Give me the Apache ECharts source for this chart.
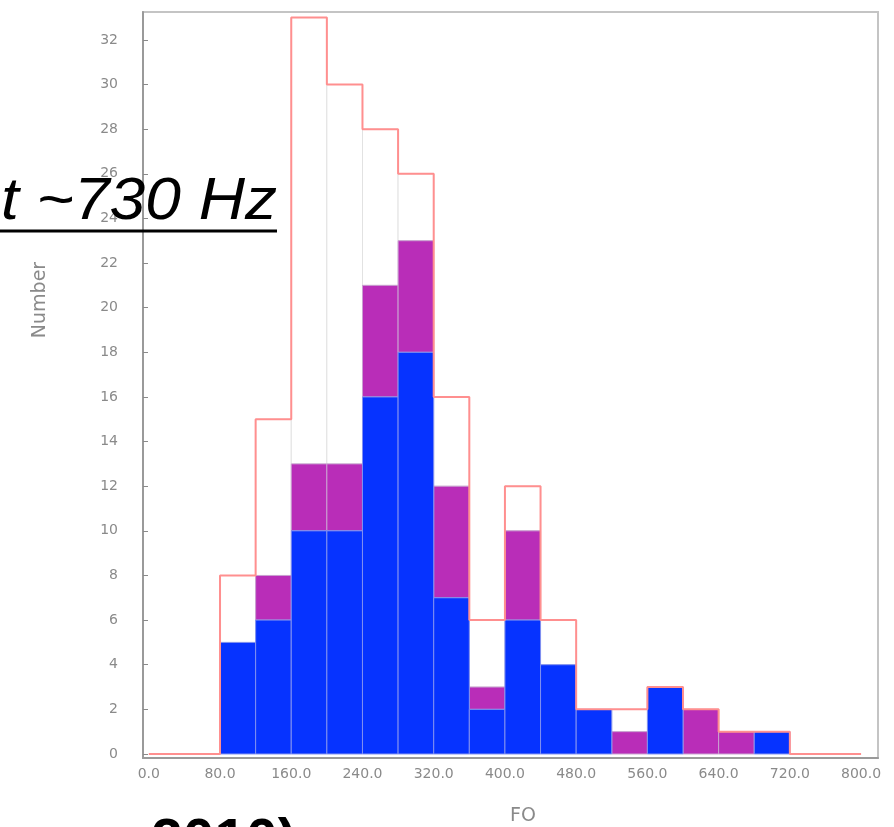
<!DOCTYPE html>
<html><head><meta charset="utf-8">
<script src="https://cdn.jsdelivr.net/npm/echarts@6/dist/echarts.min.js"></script>
<style>html,body{margin:0;padding:0;background:#fff;overflow:hidden}#c{width:894px;height:827px}</style>
</head><body><div id="c"></div><script>
// Histogram of F0 (bin width 40)
const binStart = [80,120,160,200,240,280,320,360,400,440,480,520,560,600,640,680];
const binWidth = 40;
const blueCounts   = [5,6,10,10,16,18,7,2,6,4,2,0,3,0,0,1];
const purpleTops   = [5,8,13,13,21,23,12,3,10,4,2,1,3,2,1,1];
const totalCounts  = [8,15,33,30,28,26,16,6,12,6,2,2,3,2,1,1];
const histRange = [0, 800];
const xTickValues = [0,80,160,240,320,400,480,560,640,720,800];
const yTickValues = [0,2,4,6,8,10,12,14,16,18,20,22,24,26,28,30,32];
const xName = 'FO';
const yName = 'Number';
const overlayTop = 't ~730 Hz';
const overlayBottom = '2010)';

const chart = echarts.init(document.getElementById('c'), null, {renderer:'canvas'});

function layer(lowArr, highArr) {
  return binStart.map((s, i) => [s, s + binWidth, lowArr ? lowArr[i] : 0, highArr[i]]);
}
function renderRect(fill, stroke) {
  return function (params, api) {
    const x0 = api.value(0), x1 = api.value(1), lo = api.value(2), hi = api.value(3);
    if (hi <= lo) return null;
    const p0 = api.coord([x0, lo]);
    const p1 = api.coord([x1, hi]);
    return {
      type: 'rect',
      shape: { x: p0[0], y: p1[1], width: p1[0] - p0[0], height: p0[1] - p1[1] },
      style: { fill: fill, stroke: stroke, lineWidth: 1 }
    };
  };
}
const outline = [[histRange[0], 0]]
  .concat(binStart.map((s, i) => [s, totalCounts[i]]))
  .concat([[binStart[binStart.length - 1] + binWidth, 0], [histRange[1], 0]]);

const axisFont = { color: '#8a8a8a', fontSize: 14, fontFamily: 'DejaVu Sans' };

chart.setOption({
  animation: false,
  backgroundColor: '#fff',
  grid: { left: 143, right: 16, top: 12, bottom: 69, show: true, borderColor: '#c4c4c4', borderWidth: 2, backgroundColor: '#fff' },
  xAxis: {
    type: 'value', min: -6.5, max: 819,
    splitLine: { show: false },
    axisLine: { show: true, onZero: false, lineStyle: { color: '#9a9a9a', width: 2 } },
    axisTick: { show: false },
    axisLabel: Object.assign({ margin: 9, customValues: xTickValues, formatter: v => v.toFixed(1) }, axisFont)
  },
  yAxis: {
    type: 'value', min: -0.18, max: 33.25,
    splitLine: { show: false },
    axisLine: { show: true, onZero: false, lineStyle: { color: '#9a9a9a', width: 2 } },
    axisTick: { show: true, inside: true, length: 5, customValues: yTickValues, lineStyle: { color: '#8a8a8a' } },
    axisLabel: Object.assign({ margin: 25, customValues: yTickValues }, axisFont)
  },
  series: [
    { type: 'custom', renderItem: renderRect('#ffffff', '#e2e2e2'), data: layer(purpleTops, totalCounts), encode: { x: [0, 1], y: [2, 3] }, z: 2 },
    { type: 'custom', renderItem: renderRect('#b92db8', '#c9a0d0'), data: layer(blueCounts, purpleTops), encode: { x: [0, 1], y: [2, 3] }, z: 3 },
    { type: 'custom', renderItem: renderRect('#0633ff', '#8090f0'), data: layer(null, blueCounts), encode: { x: [0, 1], y: [2, 3] }, z: 4 },
    { type: 'line', step: 'end', data: outline, symbol: 'none', z: 5,
      lineStyle: { color: '#ff8f8f', width: 2 } }
  ],
  graphic: [
    { type: 'text', x: 40, y: 300, rotation: Math.PI / 2, style: { text: yName, fill: '#8a8a8a', font: '19px "DejaVu Sans"', textAlign: 'center', verticalAlign: 'middle' } },
    { type: 'text', x: 523, y: 816, style: { text: xName, fill: '#8a8a8a', font: '19px "DejaVu Sans"', textAlign: 'center', verticalAlign: 'middle' } },
    { type: 'text', x: 277, y: 173, scaleX: 1.086, style: { text: overlayTop, fill: '#000', font: 'italic 59px "Liberation Sans"', textAlign: 'right' }, z: 100 },
    { type: 'line', shape: { x1: 0, y1: 231, x2: 277, y2: 231 }, style: { stroke: '#000', lineWidth: 3 }, z: 100 },
    { type: 'text', x: 151, y: 815, style: { text: overlayBottom, fill: '#000', font: 'bold 57px "Liberation Sans"', textAlign: 'left' }, z: 100 }
  ]
});
</script></body></html>
